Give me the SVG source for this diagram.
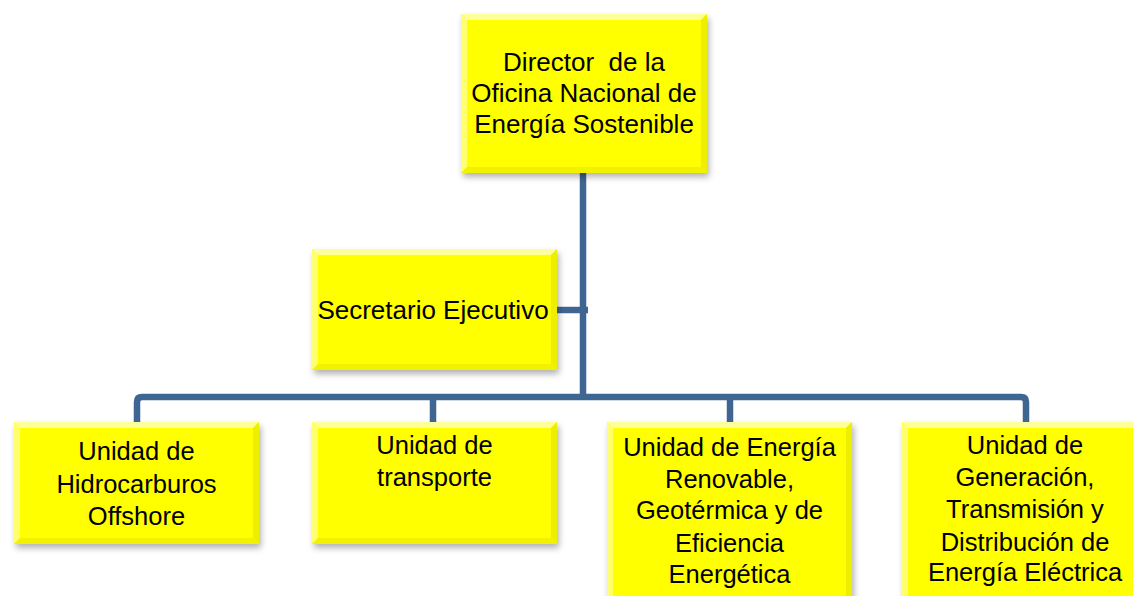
<svg xmlns="http://www.w3.org/2000/svg" width="1133" height="596" viewBox="0 0 1133 596">
<style>
.box{fill:#FFFF00}
.bt{fill:#FFFF9A}
.bl{fill:#FFFF70}
.br{fill:#EEEE00}
.bb{fill:#F2F200}
.t{font-family:"Liberation Sans",Arial,sans-serif;font-size:25.5px;fill:#000;text-anchor:middle;white-space:pre}
.tl{font-size:26px}
.c{fill:none;stroke:#3F6592;stroke-width:6.5;stroke-linecap:butt;stroke-linejoin:round}
</style>
<defs>
<filter id="sh" x="-10%" y="-10%" width="125%" height="130%">
<feDropShadow dx="2" dy="4" stdDeviation="3" flood-color="#000" flood-opacity="0.3"/>
</filter>
</defs>
<rect width="1133" height="596" fill="#fff"/>
<g id="connectors">
<path class="c" d="M583 173 V397"/>
<path class="c" d="M557 310 H588"/>
<path class="c" d="M137 422 V402 Q137 397 142 397 H1021 Q1026 397 1026 402 V422"/>
<path class="c" d="M433 397 V422"/>
<path class="c" d="M730 397 V422"/>
</g>
<g id="director">
<rect class="box" x="461" y="14" width="246" height="159" filter="url(#sh)"/>
<polygon class="bt" points="461,14 707,14 701,20 467,20"/>
<polygon class="bl" points="461,14 467,20 467,167 461,173"/>
<polygon class="br" points="707,14 707,173 701,167 701,20"/>
<polygon class="bb" points="461,173 707,173 701,167 467,167"/>
<text class="t tl" x="584" y="71">Director  de la</text>
<text class="t tl" x="584" y="102">Oficina Nacional de</text>
<text class="t tl" x="584" y="133">Energía Sostenible</text>
</g>
<g id="secretario">
<rect class="box" x="312" y="249" width="245" height="121" filter="url(#sh)"/>
<polygon class="bt" points="312,249 557,249 551,255 318,255"/>
<polygon class="bl" points="312,249 318,255 318,364 312,370"/>
<polygon class="br" points="557,249 557,370 551,364 551,255"/>
<polygon class="bb" points="312,370 557,370 551,364 318,364"/>
<text class="t tl" x="433" y="319">Secretario Ejecutivo</text>
</g>
<g id="hidrocarburos">
<rect class="box" x="14" y="422" width="245" height="122" filter="url(#sh)"/>
<polygon class="bt" points="14,422 259,422 253,428 20,428"/>
<polygon class="bl" points="14,422 20,428 20,538 14,544"/>
<polygon class="br" points="259,422 259,544 253,538 253,428"/>
<polygon class="bb" points="14,544 259,544 253,538 20,538"/>
<text class="t" x="136.5" y="460">Unidad de</text>
<text class="t" x="136.5" y="493">Hidrocarburos</text>
<text class="t" x="136.5" y="525">Offshore</text>
</g>
<g id="transporte">
<rect class="box" x="312" y="422" width="245" height="122" filter="url(#sh)"/>
<polygon class="bt" points="312,422 557,422 551,428 318,428"/>
<polygon class="bl" points="312,422 318,428 318,538 312,544"/>
<polygon class="br" points="557,422 557,544 551,538 551,428"/>
<polygon class="bb" points="312,544 557,544 551,538 318,538"/>
<text class="t" x="434.5" y="454">Unidad de</text>
<text class="t" x="434.5" y="486">transporte</text>
</g>
<g id="renovable">
<rect class="box" x="607" y="422" width="245" height="190" filter="url(#sh)"/>
<polygon class="bt" points="607,422 852,422 846,428 613,428"/>
<polygon class="bl" points="607,422 613,428 613,612 607,612"/>
<polygon class="br" points="852,422 852,612 846,612 846,428"/>
<text class="t" x="729.5" y="456">Unidad de Energía</text>
<text class="t" x="729.5" y="488">Renovable,</text>
<text class="t" x="729.5" y="519">Geotérmica y de</text>
<text class="t" x="729.5" y="552">Eficiencia</text>
<text class="t" x="729.5" y="583">Energética</text>
</g>
<g id="electrica">
<rect class="box" x="902" y="422" width="246" height="190" filter="url(#sh)"/>
<polygon class="bt" points="902,422 1148,422 1142,428 908,428"/>
<polygon class="bl" points="902,422 908,428 908,612 902,612"/>
<text class="t" x="1025" y="454">Unidad de</text>
<text class="t" x="1025" y="486">Generación,</text>
<text class="t" x="1025" y="518">Transmisión y</text>
<text class="t" x="1025" y="551">Distribución de</text>
<text class="t" x="1025" y="581">Energía Eléctrica</text>
</g>
</svg>
